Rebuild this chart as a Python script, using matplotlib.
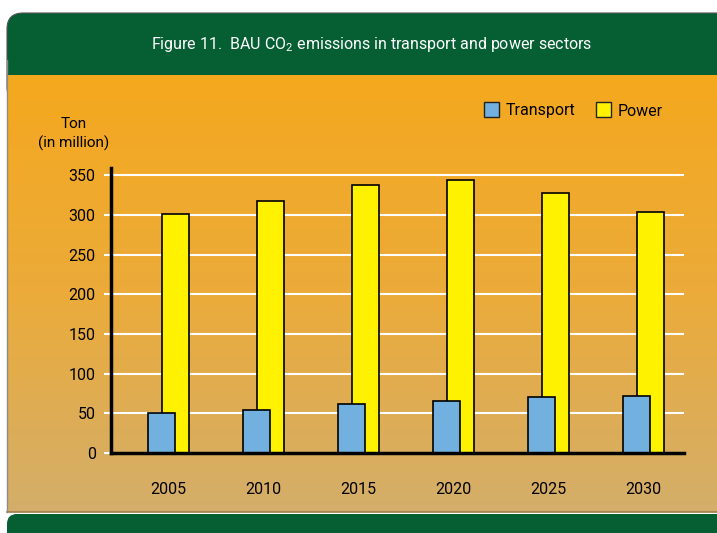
#!/usr/bin/env python3
"""BAU CO2 emissions in transport and power sectors (Figure 11)."""
import matplotlib

matplotlib.use("Agg")
import matplotlib.pyplot as plt
import numpy as np
from matplotlib.colors import LinearSegmentedColormap
from matplotlib.patches import FancyBboxPatch, Rectangle

YEARS = ["2005", "2010", "2015", "2020", "2025", "2030"]
SERIES = ["Transport", "Power"]
TRANSPORT = [51, 54, 62, 66, 70, 72]
POWER = [301, 317, 338, 344, 328, 303]
Y_TICKS = [0, 50, 100, 150, 200, 250, 300, 350]

TITLE = r"Figure 11.  BAU CO$_2$ emissions in transport and power sectors"
FONT = ["Roboto", "DejaVu Sans"]

plt.rcParams["font.family"] = FONT
plt.rcParams["mathtext.fontset"] = "custom"
plt.rcParams["mathtext.rm"] = FONT[0]
plt.rcParams["mathtext.it"] = FONT[0]

W, H = 717, 533
GREEN = "#065e33"
BLUE = "#72b1df"
YELLOW = "#fff200"

fig = plt.figure(figsize=(W / 100, H / 100), dpi=100)
fig.patch.set_facecolor("white")

# background panel drawn in pixel coordinates
bg = fig.add_axes([0, 0, 1, 1])
bg.set_xlim(0, W)
bg.set_ylim(H, 0)
bg.axis("off")

bg.add_patch(FancyBboxPatch((7, 13), 760, 90, boxstyle="round,pad=0,rounding_size=16",
                            facecolor=GREEN, edgecolor="#555555", linewidth=0.8))
grad = LinearSegmentedColormap.from_list("panel", ["#f5a81e", "#ebab3a", "#d3ae6a"])
bg.imshow(np.linspace(0, 1, 200).reshape(-1, 1), cmap=grad, aspect="auto",
          extent=(7, W, 512, 75), zorder=1)
bg.plot([7, W], [512, 512], color="#9c7f4c", linewidth=1.2, zorder=2)
bg.plot([7, 7], [60, 512], color="#8a8a8a", linewidth=1.0, zorder=2)
bg.add_patch(FancyBboxPatch((7, 514), 760, 60, boxstyle="round,pad=0,rounding_size=10",
                            facecolor=GREEN, edgecolor="none", zorder=2))

bg.text(372, 45, TITLE, color="white", fontsize=11.5, ha="center", va="center", zorder=3)
bg.text(74, 124, "Ton", fontsize=11, ha="center", va="center", zorder=3)
bg.text(74, 143, "(in million)", fontsize=11, ha="center", va="center", zorder=3)

# legend
for (x0, color), name in zip([(484, BLUE), (596, YELLOW)], SERIES):
    bg.add_patch(Rectangle((x0, 102), 15, 15, facecolor=color, edgecolor="#222222",
                           linewidth=1.0, zorder=3))
    bg.text(x0 + 22, 111, name, fontsize=11.5, ha="left", va="center", zorder=3)

# chart axes
ax = fig.add_axes([111 / W, 1 - 453 / H, 573 / W, 285 / H])
ax.patch.set_alpha(0)
x = np.arange(len(YEARS))
width = 0.284
offset = 0.074
ax.bar(x + offset, POWER, width, color=YELLOW, edgecolor="black", linewidth=1.2, zorder=3)
ax.bar(x - offset, TRANSPORT, width, color=BLUE, edgecolor="black", linewidth=1.2, zorder=4)

ax.set_xlim(-0.605, 5.426)
ax.set_ylim(0, 359)
ax.set_xticks(x, YEARS, fontsize=11.5)
ax.set_yticks(Y_TICKS, [str(v) for v in Y_TICKS], fontsize=11.5)
ax.tick_params(axis="x", length=0, pad=21)
ax.tick_params(axis="y", length=5, width=1.5, color="white", pad=6)
ax.yaxis.grid(True, color="white", linewidth=1.5, zorder=1)
ax.set_axisbelow(True)

for side in ("top", "right"):
    ax.spines[side].set_visible(False)
ax.spines["left"].set_linewidth(2.5)
ax.spines["bottom"].set_linewidth(2.5)
ax.spines["left"].set_zorder(5)
ax.spines["bottom"].set_zorder(5)

fig.savefig("out.png", dpi=100)
